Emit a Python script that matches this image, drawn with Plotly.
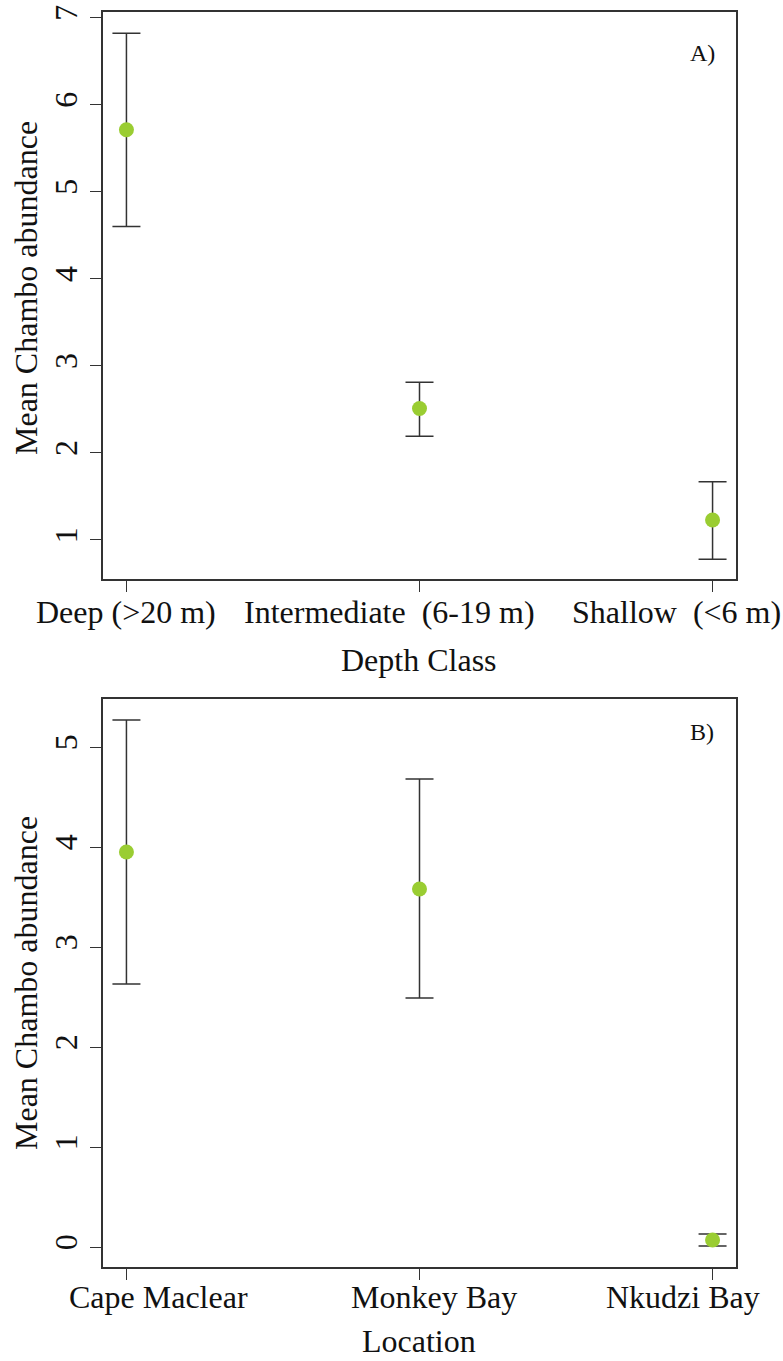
import plotly.graph_objects as go

# Panel A: abundance by depth class
depth_classes = ["Deep (>20 m)", "Intermediate  (6-19 m)", "Shallow  (<6 m)"]
depth_mean = [5.71, 2.51, 1.23]
depth_lower = [4.60, 2.19, 0.78]
depth_upper = [6.82, 2.81, 1.67]

# Panel B: abundance by location
locations = ["Cape Maclear", "Monkey Bay", "Nkudzi Bay"]
loc_mean = [3.95, 3.58, 0.07]
loc_lower = [2.63, 2.49, 0.01]
loc_upper = [5.27, 4.68, 0.13]

depth_ticks = [1, 2, 3, 4, 5, 6, 7]
loc_ticks = [0, 1, 2, 3, 4, 5]

W, H = 783, 1361
FONT = "Liberation Serif, Times New Roman, serif"
INK = "#333333"
TEXT = "#111111"
POINT = "#9ACD32"
FS = 32

# horizontal nudges (px) of the category labels relative to their ticks
depth_label_shift = [0, -30, -36]
loc_label_shift = [32, 14, -30]


def px_x(p):
    return p / W


def px_y(p):
    return 1 - p / H


fig = go.Figure()


def add_panel(idx, cats, mean, lower, upper, shifts, label_y):
    xs = list(range(1, len(cats) + 1))
    xa = "x" if idx == 1 else "x2"
    ya = "y" if idx == 1 else "y2"
    fig.add_trace(go.Scatter(
        x=xs, y=mean, mode="markers",
        marker=dict(color=POINT, size=15),
        error_y=dict(type="data", symmetric=False,
                     array=[u - m for u, m in zip(upper, mean)],
                     arrayminus=[m - l for m, l in zip(mean, lower)],
                     color=INK, thickness=1.5, width=14),
        xaxis=xa, yaxis=ya, showlegend=False, cliponaxis=False,
    ))
    for xv, cat, dx in zip(xs, cats, shifts):
        fig.add_annotation(text=cat, xref=xa, yref="paper", x=xv, y=px_y(label_y),
                           xshift=dx, showarrow=False, xanchor="center",
                           yanchor="middle",
                           font=dict(family=FONT, size=FS, color=TEXT))


add_panel(1, depth_classes, depth_mean, depth_lower, depth_upper,
          depth_label_shift, 612)
add_panel(2, locations, loc_mean, loc_lower, loc_upper,
          loc_label_shift, 1297)

axis_common = dict(showline=True, mirror=True, linecolor=INK, linewidth=1.5,
                   ticks="outside", ticklen=11, tickwidth=1.2, tickcolor=INK,
                   showgrid=False, zeroline=False, automargin=False,
                   ticklabeloverflow="allow",
                   tickfont=dict(family=FONT, size=FS, color=TEXT))

x_dom = [px_x(103), px_x(736)]

fig.update_layout(
    width=W, height=H,
    margin=dict(l=0, r=0, t=0, b=0),
    paper_bgcolor="white", plot_bgcolor="white",
    xaxis=dict(domain=x_dom, range=[0.92, 3.08], anchor="y",
               tickvals=[1, 2, 3], showticklabels=False, **axis_common),
    yaxis=dict(domain=[px_y(579), px_y(12)], range=[0.552, 7.063], anchor="x",
               tickvals=depth_ticks, tickangle=-90, **axis_common),
    xaxis2=dict(domain=x_dom, range=[0.92, 3.08], anchor="y2",
                tickvals=[1, 2, 3], showticklabels=False, **axis_common),
    yaxis2=dict(domain=[px_y(1267), px_y(699)], range=[-0.2, 5.48], anchor="x2",
                tickvals=loc_ticks, tickangle=-90, **axis_common),
)

title_font = dict(family=FONT, size=FS, color=TEXT)
annotations = [
    dict(text="Depth Class", x=px_x(419), y=px_y(660)),
    dict(text="Location", x=px_x(419), y=px_y(1341)),
    dict(text="Mean Chambo abundance", x=px_x(26), y=px_y(288), textangle=-90),
    dict(text="Mean Chambo abundance", x=px_x(26), y=px_y(983), textangle=-90),
]
for a in annotations:
    fig.add_annotation(xref="paper", yref="paper", showarrow=False,
                       xanchor="center", yanchor="middle", font=title_font, **a)

for label, yy in [("A)", 53), ("B)", 732)]:
    fig.add_annotation(text=label, xref="paper", yref="paper",
                       x=px_x(702), y=px_y(yy), showarrow=False,
                       xanchor="center", yanchor="middle",
                       font=dict(family=FONT, size=24, color=TEXT))

fig.write_html("out.html")
